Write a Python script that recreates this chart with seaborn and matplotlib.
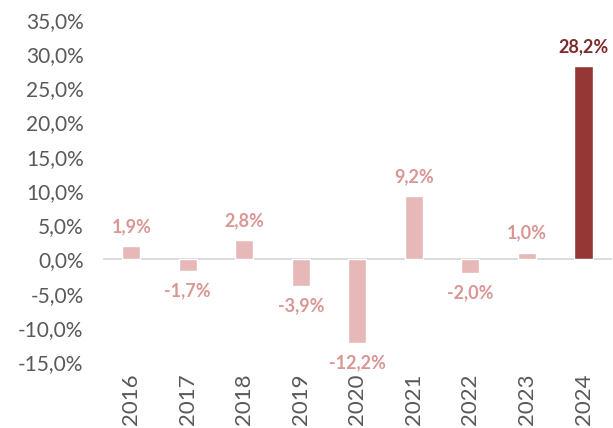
import pandas as pd
import matplotlib.pyplot as plt
import seaborn as sb
from matplotlib.ticker import FuncFormatter

years = ['2016', '2017', '2018', '2019', '2020', '2021', '2022', '2023', '2024']
growth = [1.9, -1.7, 2.8, -3.9, -12.2, 9.2, -2.0, 1.0, 28.2]

light = '#E6B9B8'
dark = '#953735'
bar_cols = {y: (dark if y == '2024' else light) for y in years}
txt_cols = {y: ('#7A2B29' if y == '2024' else '#D99694') for y in years}

df = pd.DataFrame({'Year': years, 'Growth': growth})

sb.set_style('white')
plt.rcParams['font.family'] = ['Lato', 'DejaVu Sans']

fig = plt.figure(figsize=(6.13, 4.28), dpi=100)
ax = fig.add_axes([0.168, 0.154, 0.83, 0.80])
sb.barplot(data=df, x='Year', y='Growth', hue='Year', palette=bar_cols,
           legend=False, width=0.32, saturation=1, ax=ax)

ax.set_ylim(-15, 35)
ax.set_yticks(range(-15, 36, 5))
ax.yaxis.set_major_formatter(FuncFormatter(lambda v, p: f'{v:.1f}%'.replace('.', ',')))
ax.tick_params(axis='y', labelsize=15, colors='#595959', length=0, pad=14)
ax.tick_params(axis='x', labelsize=16, colors='#595959', length=0, rotation=90, pad=8)
ax.set_xlabel('')
ax.set_ylabel('')
for s in ax.spines.values():
    s.set_visible(False)
ax.axhline(0, color='#D9D9D9', lw=1.3, zorder=0)

for i, (y, v) in enumerate(zip(years, growth)):
    off = 8 if v >= 0 else -8
    ax.annotate(f'{v:.1f}%'.replace('.', ','), (i, v), xytext=(0, off),
                textcoords='offset points', ha='center',
                va='bottom' if v >= 0 else 'top',
                fontsize=13, fontweight='bold', color=txt_cols[y])

plt.savefig('out.png', dpi=100)
